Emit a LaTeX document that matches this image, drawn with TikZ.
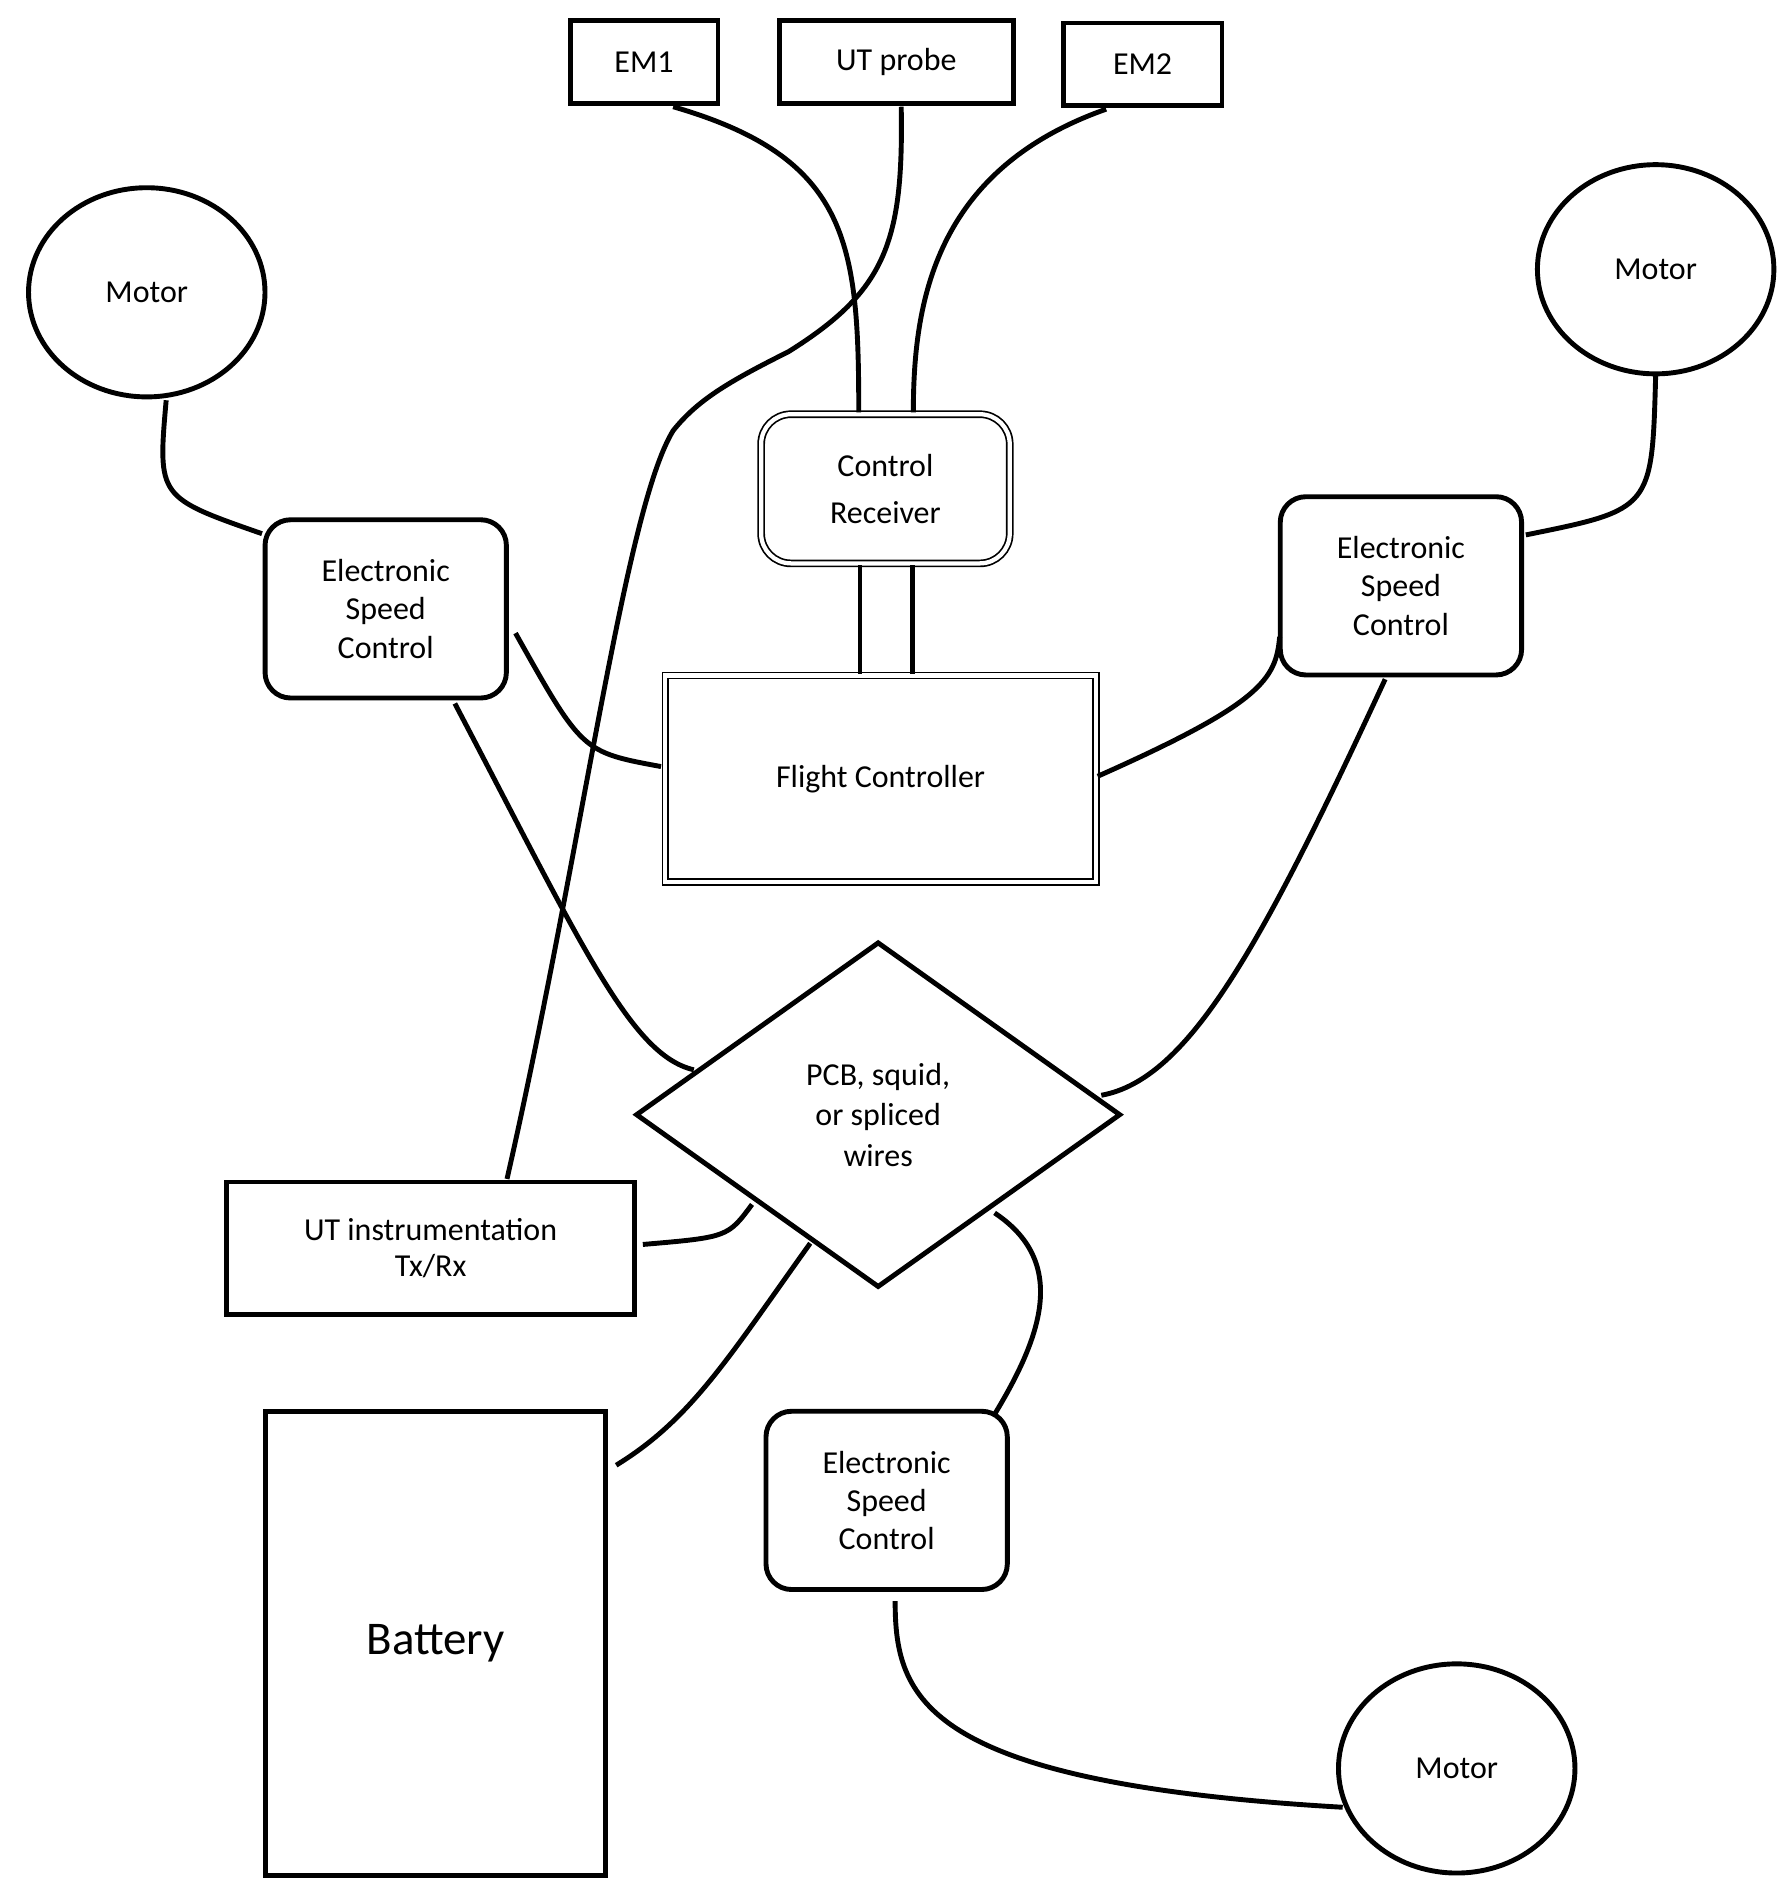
\documentclass[tikz,border=0pt]{standalone}
\usepackage{fontspec}
\setmainfont{Carlito}
\usetikzlibrary{shapes.geometric}
\begin{document}
\begin{tikzpicture}[x=0.02cm,y=-0.02cm,line width=2.3pt,
  txt/.style={font=\fontsize{15}{20}\selectfont,align=center},
  box/.style={draw,rectangle,inner sep=0pt},
  esc/.style={draw,rounded corners=12pt,inner sep=0pt,minimum width=3.98cm,minimum height=2.94cm,txt},
  motor/.style={draw,ellipse,inner sep=0pt,minimum width=3.9cm,minimum height=3.45cm,txt}]
\useasboundingbox (0,0) rectangle (1475,1564);
\node[box,txt,minimum width=2.44cm,minimum height=1.36cm] (em1) at (531,51) {EM1};
\node[box,txt,minimum width=3.86cm,minimum height=1.36cm] (ut) at (739,51) {UT probe};
\node[box,txt,minimum width=2.62cm,minimum height=1.36cm] (em2) at (942,53) {EM2};
\node[motor] (m1) at (121,241) {Motor};
\node[motor] (m2) at (1365,222) {Motor};
\node[motor] (m3) at (1201,1458) {Motor};
\node[esc] (e1) at (318,502) {Electronic\\[-2pt]Speed\\[-2pt]Control};
\node[esc] (e2) at (1155,483) {Electronic\\[-2pt]Speed\\[-2pt]Control};
\node[esc] (e3) at (731,1237) {Electronic\\[-2pt]Speed\\[-2pt]Control};
\node[draw,double,line width=0.8pt,double distance=2pt,rounded corners=14pt,minimum width=4.1cm,minimum height=2.46cm,txt] (cr) at (730,403) {Control\\[2pt]Receiver};
\node[draw,double,line width=0.8pt,double distance=2pt,minimum width=7.1cm,minimum height=3.4cm,txt] (fc) at (726,642) {Flight Controller};
\node[draw,diamond,aspect=1.4,inner sep=0pt,minimum width=8cm,minimum height=5.7cm,txt] (pcb) at (724,919) {PCB, squid,\\[-1pt]or spliced\\[-1pt]wires};
\node[box,txt,minimum width=6.74cm,minimum height=2.18cm] (uti) at (355,1029) {UT instrumentation\\[-3pt]Tx/Rx};
\node[box,minimum width=5.62cm,minimum height=7.64cm,font=\fontsize{22}{26}\selectfont] (bat) at (359,1355) {Battery};
% connectors
\coordinate (cr1) at (708,340); \coordinate (cr2) at (753,340);
\coordinate (cr3) at (709,466); \coordinate (cr4) at (752,466);
\coordinate (fc1) at (709,556); \coordinate (fc2) at (752,556);
\draw (m1.south east |- 0,330) ++(16,0) coordinate (a) (137,330) .. controls (130,410) .. (216,440);
\draw (1365,310) .. controls (1362,420) .. (1258,441);
\draw (1107,1490) .. controls (760,1470) and (738,1400) .. (738,1320);
\draw (555,88) .. controls (700,130) and (708,200) .. (cr1);
\draw (912,90) .. controls (770,140) and (753,250) .. (cr2);
\draw (743,88) .. controls (745,200) and (730,240) .. (650,290) .. controls (600,315) and (575,330) .. (555,355) .. controls (515,420) and (480,700) .. (418,972);
\draw (cr3) -- (fc1); \draw (cr4) -- (fc2);
\draw (425,522) .. controls (480,620) .. (545,632);
\draw (375,580) .. controls (480,780) and (520,870) .. (572,882);
\draw (905,640) .. controls (1040,580) and (1052,560) .. (1055,525);
\draw (1142,560) .. controls (1040,780) and (980,890) .. (908,903);
\draw (530,1026) .. controls (600,1020) .. (620,993);
\draw (668,1025) .. controls (600,1120) and (570,1170) .. (508,1208);
\draw (820,1000) .. controls (880,1040) and (860,1100) .. (820,1166);
\end{tikzpicture}
\end{document}
